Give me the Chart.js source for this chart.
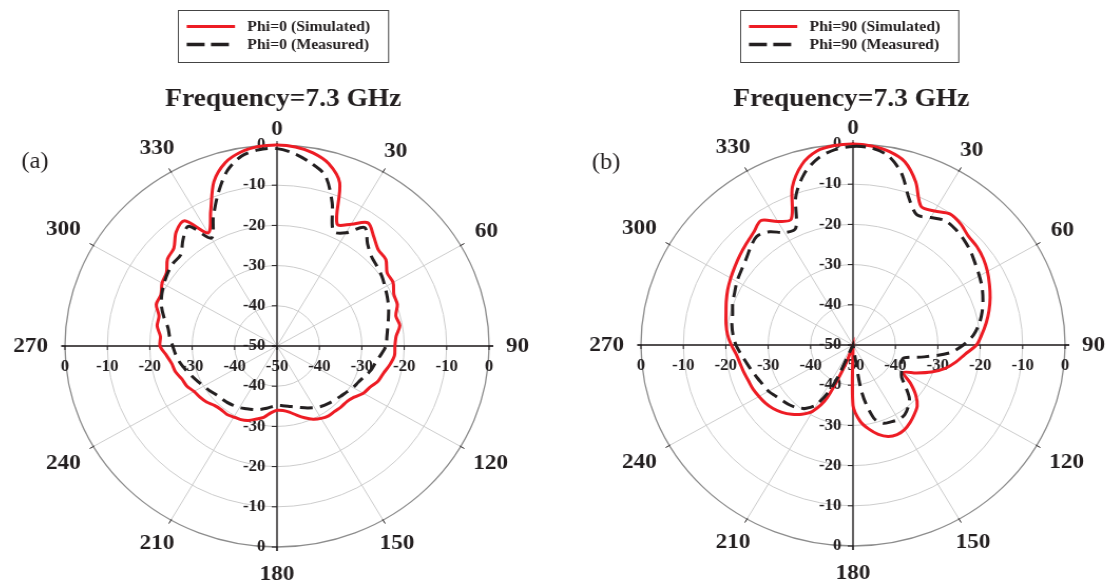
<!DOCTYPE html>
<html>
<head>
<meta charset="utf-8">
<script src="https://cdn.jsdelivr.net/npm/chart.js@4.4.1/dist/chart.umd.min.js"></script>
<style>
  html, body { margin: 0; padding: 0; background: #fff; overflow: hidden; }
  body { width: 1109px; height: 587px; position: relative; }
  .panel { position: absolute; top: 0; width: 554px; height: 587px;
           transform: scaleX(1.055); transform-origin: 277px 346px; }
  #wrapA { left: 0; }
  #wrapB { left: 576px; }
</style>
</head>
<body>
<div class="panel" id="wrapA"><canvas id="chartA" width="554" height="587"></canvas></div>
<div class="panel" id="wrapB"><canvas id="chartB" width="554" height="587"></canvas></div>
<script>
// angle categories every 5 degrees, clockwise from the top
const angles = Array.from({ length: 72 }, (_, i) => i * 5);
const angleTicks = [0, 30, 60, 90, 120, 150, 180, 210, 240, 270, 300, 330];
const dbTicks = [0, -10, -20, -30, -40, -50];

// (a) Phi = 0, dB
const phi0Simulated = [
  0, -0.3, -1.2, -3.0, -6.8, -16.5, -15.0, -12.6, -14.5, -16.2,
  -16.5, -18.3, -18.4, -19.6, -19.8, -21.0, -20.6, -21.8, -22.2, -22.2,
  -23.0, -24.0, -24.6, -25.8, -26.5, -27.8, -28.5, -28.6, -28.8, -28.8,
  -29.2, -29.9, -31.0, -32.2, -33.3, -33.9, -34.0, -33.3, -32.0, -31.2,
  -30.3, -29.8, -29.6, -29.3, -29.4, -29.1, -28.3, -27.8, -27.4, -26.5,
  -26.1, -25.2, -24.8, -23.8, -22.4, -22.4, -21.3, -21.2, -19.7, -19.8,
  -18.7, -18.2, -16.3, -15.6, -13.0, -12.0, -17.5, -13.0, -6.5, -2.8,
  -1.0, -0.2
];
const phi0Measured = [
  -0.9, -2.0, -3.8, -6.1, -12.0, -18.5, -17.5, -14.0, -16.8, -18.5,
  -19.2, -19.8, -20.6, -21.3, -22.0, -22.8, -23.5, -24.0, -24.3, -25.4,
  -26.4, -27.0, -28.0, -28.8, -29.3, -30.0, -30.5, -30.9, -31.3, -31.7,
  -32.3, -33.0, -33.7, -34.3, -34.8, -35.1, -35.2, -34.8, -34.2, -33.6,
  -33.2, -32.8, -32.3, -32.0, -31.7, -31.5, -31.2, -30.6, -30.0, -29.3,
  -28.5, -27.6, -26.7, -26.0, -25.4, -24.6, -23.9, -22.4, -21.0, -20.0,
  -19.2, -18.5, -18.0, -17.9, -15.5, -13.6, -19.0, -14.5, -9.5, -4.8,
  -2.0, -1.0
];

// (b) Phi = 90, dB
const phi90Simulated = [
  0, -0.3, -1.1, -2.8, -6.8, -12.0, -11.5, -10.2, -10.6, -11.6,
  -11.9, -12.5, -13.4, -14.5, -15.6, -16.8, -18.1, -19.5, -20.9, -23.5,
  -25.4, -27.5, -30.3, -33.5, -36.3, -33.5, -30.7, -28.6, -27.5, -26.5,
  -25.7, -25.4, -25.8, -27.0, -28.8, -31.0, -35.0, -50, -50, -50,
  -45.0, -35.5, -31.0, -29.0, -27.5, -26.3, -25.4, -24.8, -24.4, -24.0,
  -23.8, -23.4, -23.0, -22.4, -21.3, -20.3, -19.6, -19.0, -18.2, -17.4,
  -16.7, -16.0, -15.2, -14.4, -13.5, -12.2, -14.5, -15.5, -8.2, -3.5,
  -1.0, -0.2
];
const phi90Measured = [
  -0.6, -0.8, -2.2, -5.8, -11.3, -14.3, -13.4, -12.2, -12.4, -13.0,
  -13.8, -14.8, -15.6, -16.4, -17.4, -18.5, -19.8, -21.5, -24.0, -27.2,
  -33.0, -37.6, -37.8, -37.2, -36.8, -36.0, -33.8, -31.2, -29.8, -28.8,
  -28.6, -28.9, -29.3, -31.2, -38.0, -50, -50, -50, -50, -50,
  -50, -39.0, -33.0, -30.8, -29.6, -28.9, -28.4, -27.8, -27.0, -26.6,
  -26.0, -25.3, -24.5, -23.5, -22.4, -21.6, -21.0, -20.6, -19.8, -19.2,
  -18.4, -17.8, -17.0, -15.8, -14.7, -15.6, -17.7, -18.0, -10.6, -5.8,
  -2.8, -1.2
];

const SX = 1.055;
const serif = "'Liberation Serif', 'Times New Roman', serif";
const ink = '#231f20';
const red = '#ed1c24';

function decor(cfg) {
  return {
    id: 'decor',
    beforeDatasetsDraw(chart) {
      const s = chart.scales.r, ctx = chart.ctx;
      const cx = s.xCenter, cy = s.yCenter, R = s.drawingArea;
      ctx.save();
      // black axes through the centre
      ctx.strokeStyle = ink;
      ctx.lineWidth = 1.3;
      ctx.beginPath();
      ctx.moveTo(cx - R - 3, cy); ctx.lineTo(cx + R + 4, cy);
      ctx.moveTo(cx, cy - R - 2); ctx.lineTo(cx, cy + R + 4);
      ctx.stroke();
      ctx.lineWidth = 1;
      ctx.beginPath();
      dbTicks.forEach(v => {
        const d = s.getDistanceFromCenterForValue(v);
        ctx.moveTo(cx - 5, cy - d); ctx.lineTo(cx, cy - d);
        ctx.moveTo(cx - 5, cy + d); ctx.lineTo(cx, cy + d);
        ctx.moveTo(cx - d, cy); ctx.lineTo(cx - d, cy + 4);
        ctx.moveTo(cx + d, cy); ctx.lineTo(cx + d, cy + 4);
      });
      // small marks on the outer ring
      angleTicks.forEach(a => {
        const i = angles.indexOf(a);
        const p1 = s.getPointPosition(i, R - 1), p2 = s.getPointPosition(i, R + 4);
        ctx.moveTo(p1.x, p1.y); ctx.lineTo(p2.x, p2.y);
      });
      ctx.stroke();

      // dB labels along both axes
      ctx.fillStyle = ink;
      ctx.font = 'bold 16px ' + serif;
      ctx.textAlign = 'right';
      ctx.textBaseline = 'middle';
      dbTicks.forEach(v => {
        const d = s.getDistanceFromCenterForValue(v);
        ctx.fillText(String(v), cx - 11, cy - d);
        if (d > 0) ctx.fillText(String(v), cx - 11, cy + d);
      });
      ctx.textAlign = 'center';
      dbTicks.forEach(v => {
        const d = s.getDistanceFromCenterForValue(v);
        ctx.fillText(String(v), cx - d, cy + 21);
        if (d > 0) ctx.fillText(String(v), cx + d, cy + 21);
      });

      // angle labels
      ctx.font = 'bold 22px ' + serif;
      angleTicks.forEach(a => {
        const i = angles.indexOf(a);
        const t = String(a);
        const w = ctx.measureText(t).width;
        const ang = s.getIndexAngle(i) - Math.PI / 2;
        const c = Math.cos(ang), sn = Math.sin(ang);
        let dist = R + 8 + Math.abs(c) * (w / 2 + 8) + Math.abs(sn) * 7.5;
        if (sn > 0.99) dist += 12;
        const p = s.getPointPosition(i, dist);
        ctx.fillText(t, p.x, p.y);
      });
      ctx.restore();
    },
    afterDraw(chart) {
      const s = chart.scales.r, ctx = chart.ctx;
      const cx = s.xCenter;
      ctx.save();
      // legend box
      ctx.font = 'bold 15px ' + serif;
      const w1 = ctx.measureText(cfg.names[0]).width;
      const w2 = ctx.measureText(cfg.names[1]).width;
      const x0 = cx + cfg.legendDx;
      const boxL = x0 - 94, boxR = x0 - 28.2 + Math.max(w1, w2) + 17;
      ctx.strokeStyle = '#444';
      ctx.lineWidth = 1;
      ctx.strokeRect(boxL + 0.5, 10.5, boxR - boxL, 52);
      ctx.lineWidth = 3;
      ctx.strokeStyle = red;
      ctx.beginPath(); ctx.moveTo(x0 - 85.6, 26.5); ctx.lineTo(x0 - 39.8, 26.5); ctx.stroke();
      ctx.strokeStyle = ink;
      ctx.lineWidth = 3.5;
      ctx.setLineDash([17, 6]);
      ctx.beginPath(); ctx.moveTo(x0 - 85.6, 44.5); ctx.lineTo(x0 - 45.6, 44.5); ctx.stroke();
      ctx.setLineDash([]);
      ctx.fillStyle = ink;
      ctx.textAlign = 'left';
      ctx.textBaseline = 'middle';
      ctx.fillText(cfg.names[0], x0 - 28.2, 27);
      ctx.fillText(cfg.names[1], x0 - 28.2, 45);
      // title
      ctx.font = 'bold 26px ' + serif;
      ctx.textAlign = 'center';
      ctx.textBaseline = 'alphabetic';
      ctx.fillText('Frequency=7.3 GHz', cx + cfg.titleDx, 106);
      // panel tag
      ctx.font = '23px ' + serif;
      ctx.textBaseline = 'middle';
      ctx.fillText(cfg.tag, cx + cfg.tagDx, cfg.tagY);
      ctx.restore();
    }
  };
}

function makeChart(id, sim, meas, cfg, pad) {
  return new Chart(document.getElementById(id), {
    type: 'radar',
    data: {
      labels: angles,
      datasets: [
        { label: cfg.names[0], data: sim, borderColor: red, borderWidth: 3,
          pointRadius: 0, tension: 0.3, fill: false, order: 2 },
        { label: cfg.names[1], data: meas, borderColor: ink, borderWidth: 3,
          borderDash: [12, 7], pointRadius: 0, tension: 0.3, fill: false, order: 1 }
      ]
    },
    options: {
      responsive: false,
      animation: false,
      devicePixelRatio: 1,
      layout: { padding: pad },
      plugins: { legend: { display: false }, tooltip: { enabled: false } },
      scales: {
        r: {
          min: -50, max: 0,
          ticks: { stepSize: 10, display: false },
          pointLabels: { display: false },
          grid: {
            circular: true,
            color: c => (c.tick && c.tick.value === 0) ? '#8c8c8c' : '#cccccc',
            lineWidth: c => (c.tick && c.tick.value === 0) ? 1.3 : 1
          },
          angleLines: {
            color: '#cccccc',
            lineWidth: c => (c.index % 6 === 0) ? 1 : 0
          }
        }
      }
    },
    plugins: [decor(cfg)]
  });
}

makeChart('chartA', phi0Simulated, phi0Measured, {
  names: ['Phi=0 (Simulated)', 'Phi=0 (Measured)'],
  legendDx: 0, titleDx: 6, tag: '(a)', tagDx: -229.4, tagY: 162
}, { left: 76, right: 76, top: 145, bottom: 40 });

makeChart('chartB', phi90Simulated, phi90Measured, {
  names: ['Phi=90 (Simulated)', 'Phi=90 (Measured)'],
  legendDx: -13, titleDx: -1.5, tag: '(b)', tagDx: -234, tagY: 163
}, { left: 76, right: 76, top: 144, bottom: 41 });
</script>
</body>
</html>
